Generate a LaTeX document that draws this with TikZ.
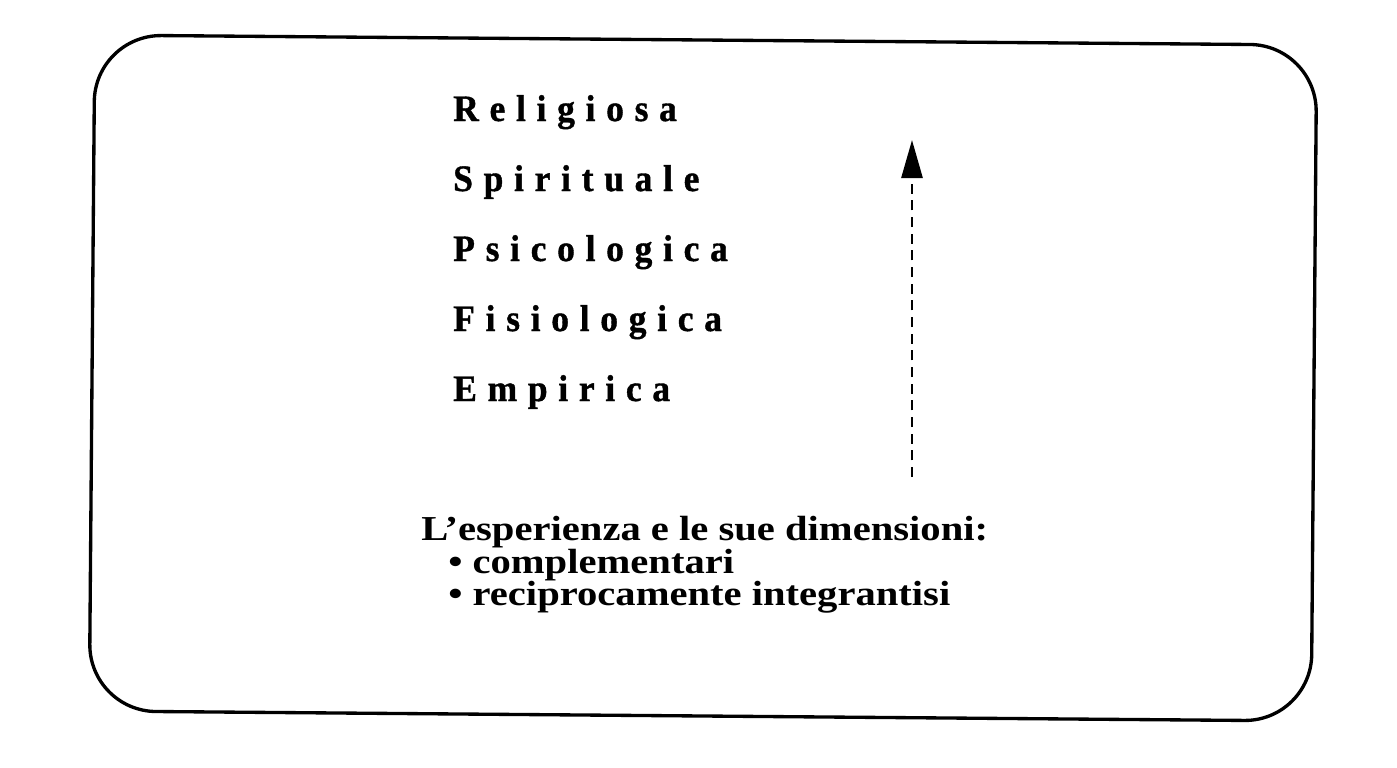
\documentclass[tikz,border=0pt]{standalone}
\usepackage{fontspec}
\setmainfont{Liberation Serif}
\newfontfamily\levelfont{Liberation Serif}[LetterSpace=28.7, FakeStretch=0.95, FakeBold=1]
\newfontfamily\notefont{Liberation Serif}[FakeStretch=1.16]
\usetikzlibrary{arrows.meta}
\tikzset{
  frame/.style={draw, line width=2.5pt, rounded corners=50pt, minimum width=916.5pt, minimum height=507pt, rotate=-0.47},
  level/.style={anchor=base west, inner sep=0pt, font=\levelfont\bfseries\fontsize{28}{32}\selectfont},
  note/.style={anchor=base west, inner sep=0pt, font=\notefont\bfseries\fontsize{26.25}{30}\selectfont},
  rise/.style={line width=2pt, dash pattern=on 7.5pt off 5pt, -{Triangle[length=28.5pt, width=15.75pt]}}
}
\begin{document}
\begin{tikzpicture}[x=0.75pt, y=-0.75pt]
\useasboundingbox (0,0) rectangle (1397,768);
\node[frame] (box) at (703,378) {};
\node[level] (rel) at (453,121) {Religiosa};
\node[level] (spi) at (453,191) {Spirituale};
\node[level] (psi) at (453,261) {Psicologica};
\node[level] (fis) at (453,331) {Fisiologica};
\node[level] (emp) at (453,401) {Empirica};
\coordinate (low) at (912,477);
\coordinate (high) at (912,140);
\draw[rise] (low) -- (high);
\node[note] (title) at (421,540) {L’esperienza e le sue dimensioni:};
\node[note] (b1) at (448,573) {• complementari};
\node[note] (b2) at (448,605) {• reciprocamente integrantisi};
\end{tikzpicture}
\end{document}
